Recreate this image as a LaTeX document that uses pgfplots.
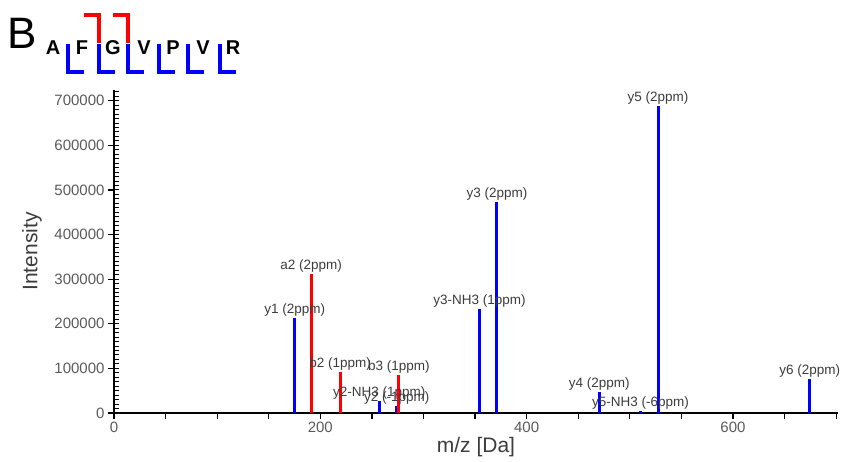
\documentclass[border=0pt]{standalone}
\usepackage{fontspec}
\setmainfont{Liberation Sans}
\usepackage{pgfplots}
\usepackage{pgfplotstable}
\pgfplotsset{compat=1.18}

\definecolor{ionblue}{RGB}{0,0,255}
\definecolor{ionred}{RGB}{255,0,0}
\definecolor{tickgray}{RGB}{90,90,90}
\definecolor{labgray}{RGB}{60,60,60}

% y ions (blue)
\pgfplotstableread[col sep=comma]{
x,y,lab
175.12,212000,y1 (2ppm)
257.16,27000,y2-NH3 (1ppm)
274.19,15000,y2 (-1ppm)
354.21,232000,y3-NH3 (1ppm)
371.24,474000,y3 (2ppm)
470.31,48000,y4 (2ppm)
510.30,4000,y5-NH3 (-6ppm)
527.33,689000,y5 (2ppm)
674.40,76000,y6 (2ppm)
}\yions

% a/b ions (red)
\pgfplotstableread[col sep=comma]{
x,y,lab
191.12,311000,a2 (2ppm)
219.11,92000,b2 (1ppm)
276.13,85000,b3 (1ppm)
}\bions

\begin{document}
\begin{tikzpicture}[x=1pt,y=1pt]
\path[use as bounding box] (0,0) rectangle (841,462);

% inner minor ticks of the intensity axis (ruler look)
\begin{axis}[
    at={(114pt,49pt)}, anchor=south west,
    scale only axis, width=724pt, height=323pt,
    xmin=0, xmax=701.8, ymin=0, ymax=724000,
    axis y line*=left, hide x axis,
    axis line style={draw=none},
    scaled y ticks=false,
    ytick={0,10000,...,720000}, yticklabels={},
    tick align=inside, major tick length=5pt,
    every tick/.style={black, line width=1pt},
]
\end{axis}

\begin{axis}[
    at={(114pt,49pt)}, anchor=south west,
    scale only axis, width=724pt, height=323pt,
    xmin=0, xmax=701.8, ymin=0, ymax=724000,
    axis x line*=bottom, axis y line*=left,
    axis line style={line width=2.6pt, -},
    clip=false,
    xtick={0,200,400,600},
    minor xtick={50,100,...,700},
    ytick={0,100000,...,700000},
    tick align=outside,
    major tick length=6pt, minor tick length=6pt,
    every tick/.style={black, line width=1.2pt},
    scaled y ticks=false,
    /pgf/number format/.cd, fixed, 1000 sep={}, assume math mode=true,
    /pgfplots/.cd,
    tick label style={font=\fontsize{15}{17}\selectfont, text=tickgray},
    xticklabel style={yshift=1pt},
    xlabel={m/z [Da]}, ylabel={Intensity},
    every axis x label/.style={at={(axis description cs:0.5,0)}, yshift=-34pt, anchor=center,
        font=\fontsize{21}{24}\selectfont, text=labgray},
    every axis y label/.style={at={(axis description cs:0,0.5)}, xshift=-82pt, rotate=90, anchor=center,
        font=\fontsize{21}{24}\selectfont, text=labgray},
]
% peak labels first, so the peak lines run over them as in the original
\addplot[draw=none, mark=none, nodes near coords, point meta=explicit symbolic,
    every node near coord/.style={anchor=south, inner sep=1.5pt, text=labgray,
        font=\fontsize{13.5}{15}\selectfont}]
    table[x=x, y=y, meta=lab] {\yions};
\addplot[draw=none, mark=none, nodes near coords, point meta=explicit symbolic,
    every node near coord/.style={anchor=south, inner sep=1.5pt, text=labgray,
        font=\fontsize{13.5}{15}\selectfont}]
    table[x=x, y=y, meta=lab] {\bions};
\addplot[ycomb, ionblue, line width=3pt, mark=none] table[x=x, y=y] {\yions};
\addplot[ycomb, ionred, line width=3pt, mark=none] table[x=x, y=y] {\bions};
\end{axis}

% panel letter and fragment map
\node[font=\fontsize{44}{48}\selectfont] at (22,429) {B};
\foreach \c/\px in {A/53, F/82, G/113, V/144, P/173, V/203, R/233}
  \node[font=\fontsize{20}{22}\selectfont\bfseries] at (\px,414) {\c};
\foreach \px in {68,99,128,159,188,220}
  \draw[ionblue, line width=4pt] (\px,418) -- (\px,390) -- (\px+16,390);
\foreach \px in {99,128}
  \draw[ionred, line width=4pt] (\px,419) -- (\px,447) -- (\px-15,447);
\end{tikzpicture}
\end{document}
